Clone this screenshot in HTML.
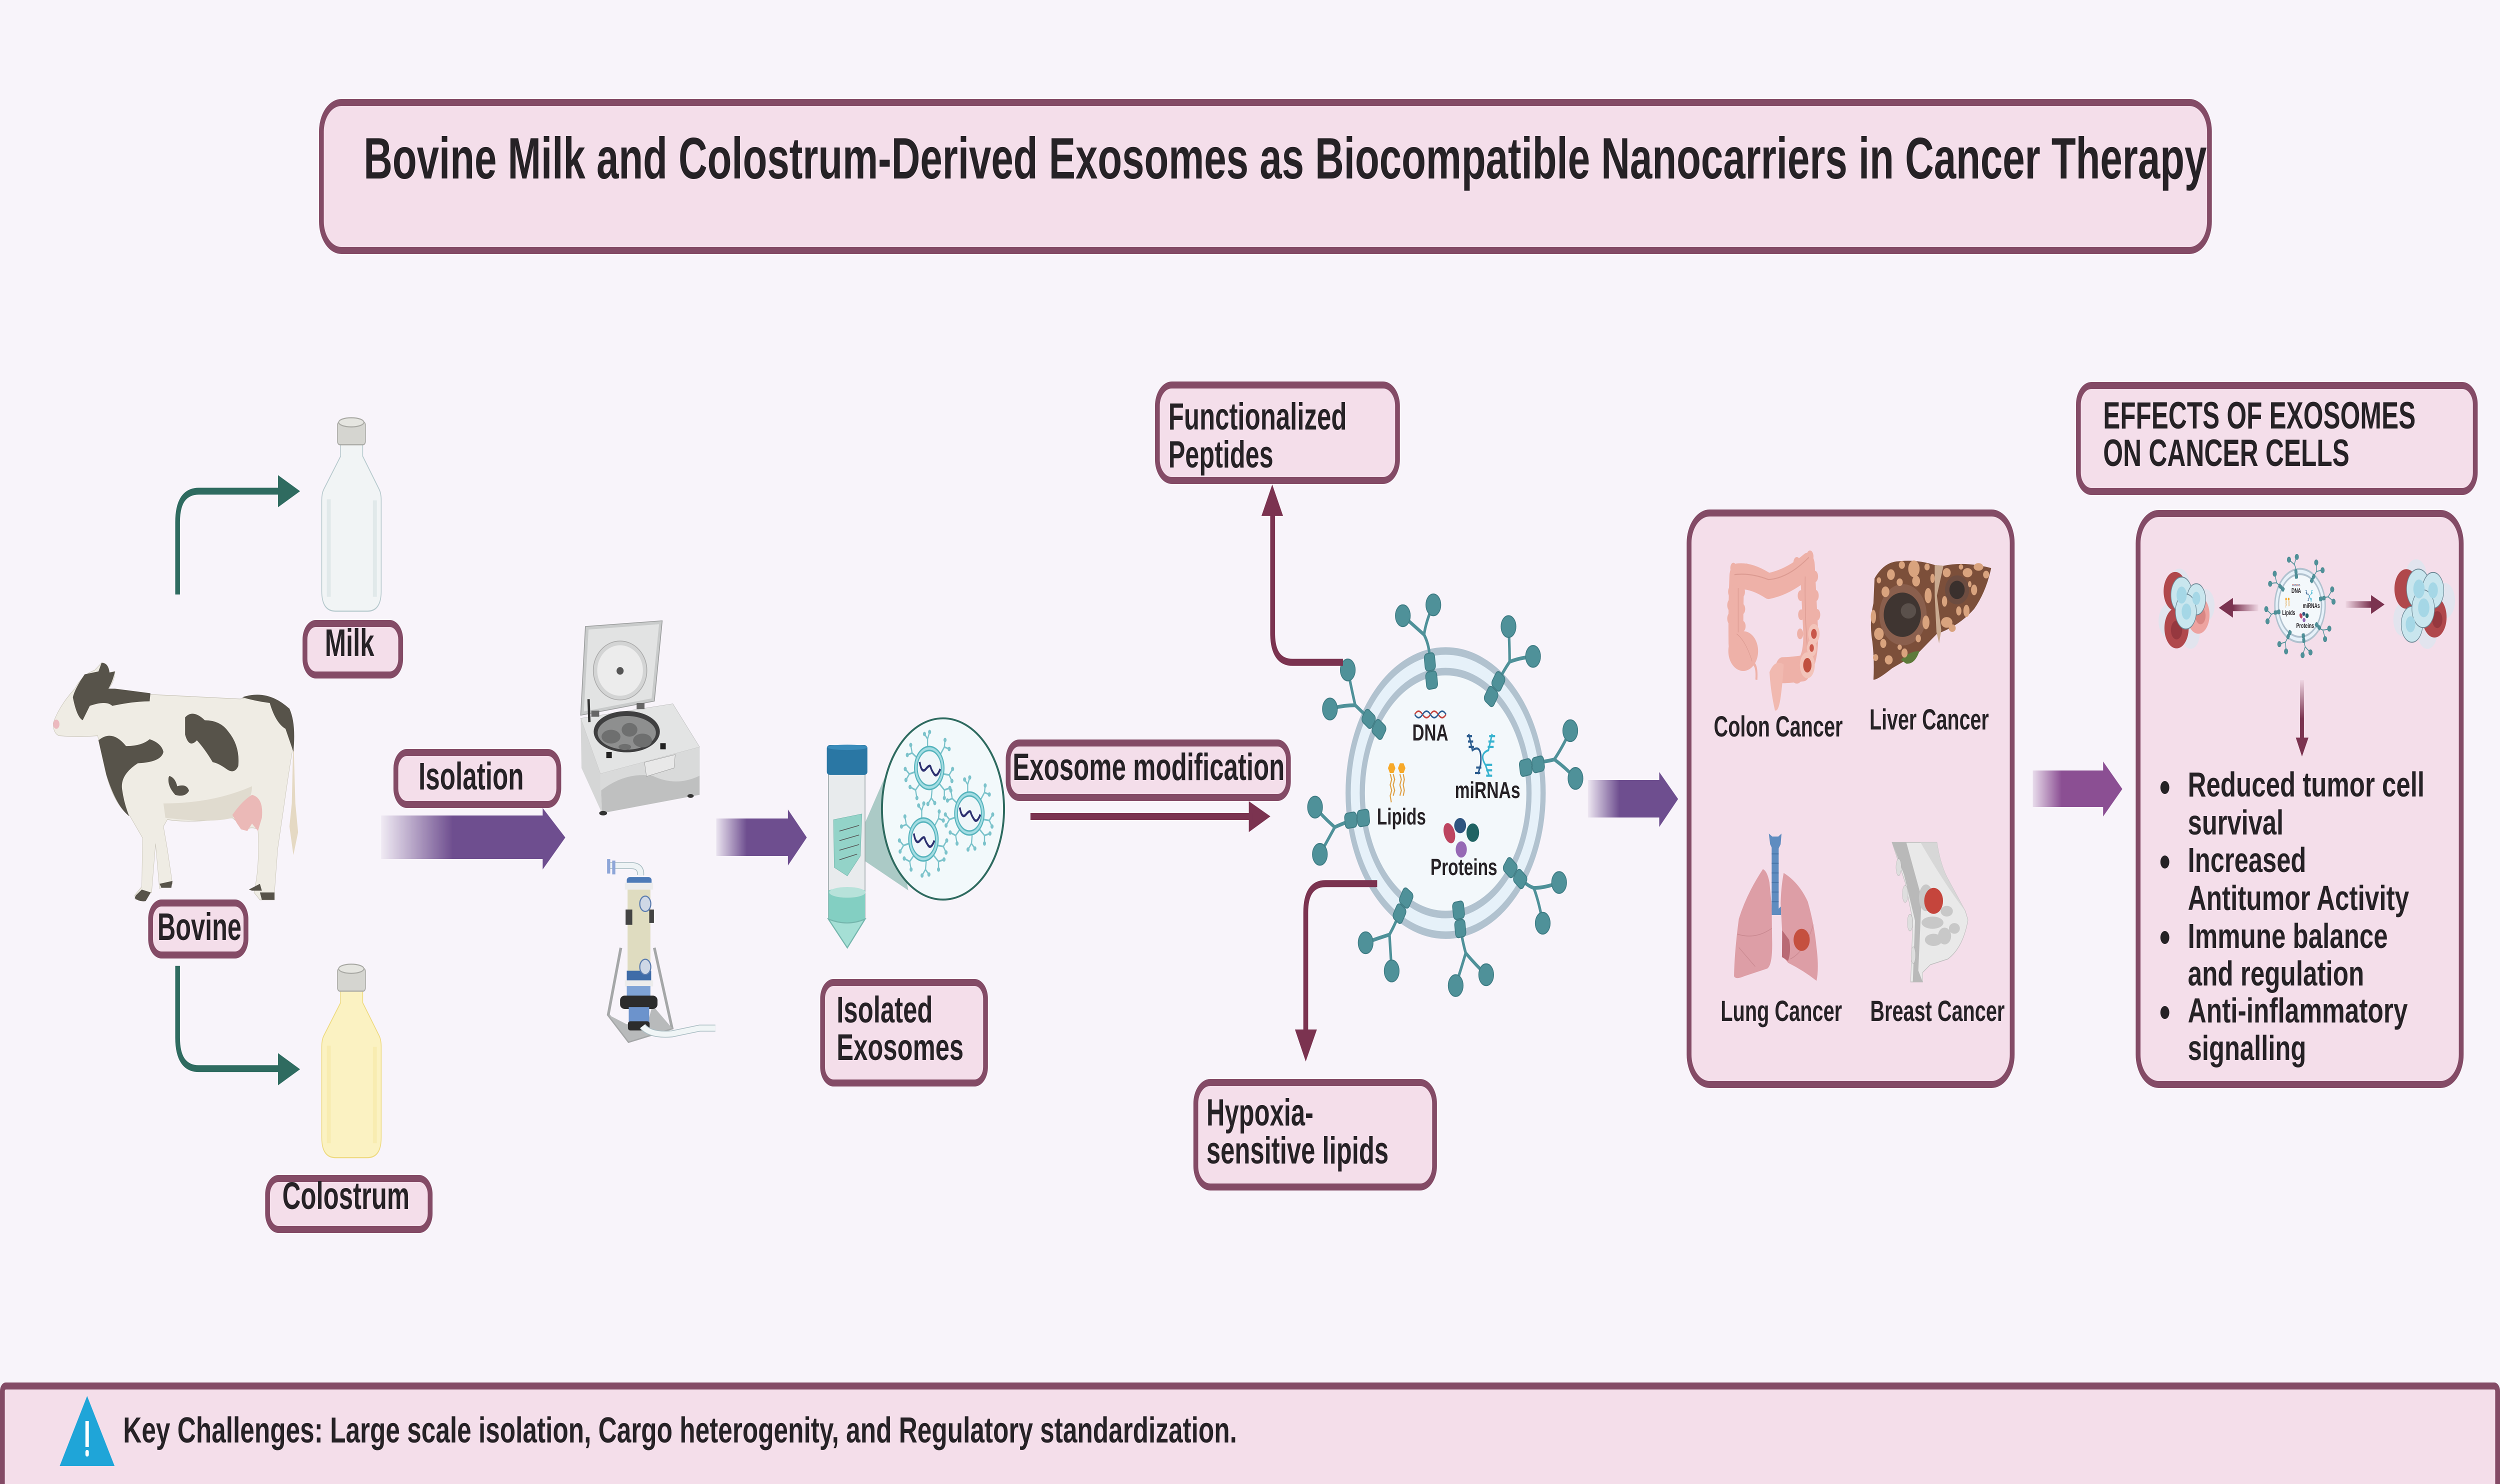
<!DOCTYPE html>
<html><head><meta charset="utf-8"><title>Bovine Milk and Colostrum-Derived Exosomes</title>
<style>
html,body{margin:0;padding:0;width:100%;height:100%;overflow:hidden;background:#f8f4fa}
svg{display:block;width:100vw;height:100vh}
text{font-family:"Liberation Sans",Arial,sans-serif;font-weight:700;fill:#262226}
.b{fill:#f4deea;stroke:#844b66;stroke-width:14}
</style></head><body>
<svg xmlns="http://www.w3.org/2000/svg" viewBox="0 0 7288 2968" preserveAspectRatio="none">
<defs>
<linearGradient id="g1" gradientUnits="userSpaceOnUse" x1="1111" x2="1320" y1="0" y2="0"><stop offset="0" stop-color="#6e4e8f" stop-opacity=".06"/><stop offset="1" stop-color="#6e4e8f"/></linearGradient>
<linearGradient id="g2" gradientUnits="userSpaceOnUse" x1="2088" x2="2177" y1="0" y2="0"><stop offset="0" stop-color="#6e4e8f" stop-opacity=".1"/><stop offset="1" stop-color="#6e4e8f"/></linearGradient>
<linearGradient id="g3" gradientUnits="userSpaceOnUse" x1="4629" x2="4721" y1="0" y2="0"><stop offset="0" stop-color="#6e4e8f" stop-opacity=".08"/><stop offset="1" stop-color="#6e4e8f"/></linearGradient>
<linearGradient id="g4" gradientUnits="userSpaceOnUse" x1="5926" x2="6010" y1="0" y2="0"><stop offset="0" stop-color="#8b4f93" stop-opacity=".15"/><stop offset="1" stop-color="#8b4f93"/></linearGradient>
<linearGradient id="g5" gradientUnits="userSpaceOnUse" x1="710" x2="620" y1="0" y2="0"><stop offset="0" stop-color="#7b3350" stop-opacity=".05"/><stop offset="1" stop-color="#7b3350"/></linearGradient>
<linearGradient id="g6" gradientUnits="userSpaceOnUse" x1="1020" x2="1110" y1="0" y2="0"><stop offset="0" stop-color="#7b3350" stop-opacity=".05"/><stop offset="1" stop-color="#7b3350"/></linearGradient>
<linearGradient id="g7" gradientUnits="userSpaceOnUse" x1="0" x2="0" y1="678" y2="760"><stop offset="0" stop-color="#7b3350" stop-opacity=".05"/><stop offset="1" stop-color="#7b3350"/></linearGradient>
<g id="lens">
<g fill="none" stroke="#7cc3cb" stroke-width="3.5">
<path d="M-5-42V-58M-5-58L-14-68M-5-58L1-72M33-28L44-42M44-42L46-56M44-42L58-38M42 12L58 14M58 14L68 2M58 14L66 26M30 32L44 44M44 44L60 40M44 44L44 60M8 44L6 60M6 60L-4 72M6 60L16 70M-28 32L-40 44M-40 44L-56 38M-40 44L-36 60M-42 8L-58 12M-58 12L-70 2M-58 12L-68 24M-38-22L-50-30M-50-30L-54-46M-50-30L-64-26"/>
</g>
<g fill="#7cc3cb"><circle cx="-14" cy="-68" r="4.5"/><circle cx="1" cy="-72" r="4.5"/><circle cx="46" cy="-56" r="4.5"/><circle cx="58" cy="-38" r="4.5"/><circle cx="68" cy="2" r="4.5"/><circle cx="66" cy="26" r="4.5"/><circle cx="60" cy="40" r="4.5"/><circle cx="44" cy="60" r="4.5"/><circle cx="-4" cy="72" r="4.5"/><circle cx="16" cy="70" r="4.5"/><circle cx="-56" cy="38" r="4.5"/><circle cx="-36" cy="60" r="4.5"/><circle cx="-70" cy="2" r="4.5"/><circle cx="-68" cy="24" r="4.5"/><circle cx="-54" cy="-46" r="4.5"/><circle cx="-64" cy="-26" r="4.5"/></g>
<circle r="39" fill="#eff6f9" stroke="#a4dde3" stroke-width="8"/>
<circle r="43" fill="none" stroke="#57b4bd" stroke-width="3"/>
<circle r="35" fill="none" stroke="#57b4bd" stroke-width="3"/>
<path d="M-28-12Q-22 12-10 2T4-2T14 12T32 2" fill="none" stroke="#2d3170" stroke-width="5"/>
</g>
<g id="bottle">
<path d="M865 160V185L822 243Q817 250 817 262V420Q817 455 852 455H933Q968 455 968 420V262Q968 250 963 243L921 185V160Z"/>
<path d="M835 260V430M952 262V430" stroke-width="10" opacity=".25" fill="none"/>
<rect x="857" y="125" width="71" height="40" rx="6" fill="#d5d5d0" stroke="#a9a9a4" stroke-width="2"/>
<ellipse cx="892" cy="126" rx="32" ry="8" fill="#e5e5e0" stroke="#a9a9a4" stroke-width="2"/>
</g>
<g id="exo">
<circle cx="843" cy="817" r="262" fill="#e6f1f9" stroke="#b1c2cf" stroke-width="14"/>
<circle cx="843" cy="817" r="224" fill="#f3f8fb" stroke="#b1c2cf" stroke-width="14"/>
<g fill="none" stroke="#4f9199" stroke-width="7">
<path d="M800 570Q800 545 785 525L728 490M785 525Q790 500 810 470"/>
<path d="M985 610Q1000 590 1015 575Q1015 545 1012 510M1015 575Q1040 568 1078 565"/>
<path d="M1095 760Q1120 758 1135 755Q1155 735 1178 702M1135 755Q1165 770 1192 790"/>
<path d="M1045 975Q1062 988 1080 992Q1110 992 1148 982M1080 992Q1095 1020 1104 1057"/>
<path d="M885 1075Q890 1095 897 1112Q885 1140 870 1172M897 1112Q925 1135 952 1152"/>
<path d="M715 1045Q705 1062 692 1078Q660 1085 628 1093M692 1078Q695 1110 698 1145"/>
<path d="M580 870Q560 875 545 880Q515 862 492 843M545 880Q525 905 505 930"/>
<path d="M630 675Q615 665 600 655Q565 655 532 662M600 655Q590 625 580 590"/>
</g>
<g fill="#4f9199" stroke="#3f7c84" stroke-width="2">
<circle cx="728" cy="490" r="20"/><circle cx="810" cy="470" r="20"/>
<circle cx="1012" cy="510" r="20"/><circle cx="1078" cy="565" r="20"/>
<circle cx="1178" cy="702" r="20"/><circle cx="1192" cy="790" r="20"/>
<circle cx="1148" cy="982" r="20"/><circle cx="1104" cy="1057" r="20"/>
<circle cx="870" cy="1172" r="20"/><circle cx="952" cy="1152" r="20"/>
<circle cx="628" cy="1093" r="20"/><circle cx="698" cy="1145" r="20"/>
<circle cx="492" cy="843" r="20"/><circle cx="505" cy="930" r="20"/>
<circle cx="532" cy="662" r="20"/><circle cx="580" cy="590" r="20"/>
<g transform="translate(803 592) rotate(-8)"><rect x="-14" y="-33" width="28" height="32" rx="8"/><rect x="-15" y="1" width="30" height="32" rx="8"/></g>
<g transform="translate(975 625) rotate(35)"><rect x="-14" y="-33" width="28" height="32" rx="8"/><rect x="-15" y="1" width="30" height="32" rx="8"/></g>
<g transform="translate(1075 767) rotate(80)"><rect x="-14" y="-33" width="28" height="32" rx="8"/><rect x="-15" y="1" width="30" height="32" rx="8"/></g>
<g transform="translate(1030 965) rotate(128)"><rect x="-14" y="-33" width="28" height="32" rx="8"/><rect x="-15" y="1" width="30" height="32" rx="8"/></g>
<g transform="translate(880 1050) rotate(172)"><rect x="-14" y="-33" width="28" height="32" rx="8"/><rect x="-15" y="1" width="30" height="32" rx="8"/></g>
<g transform="translate(728 1025) rotate(212)"><rect x="-14" y="-33" width="28" height="32" rx="8"/><rect x="-15" y="1" width="30" height="32" rx="8"/></g>
<g transform="translate(605 865) rotate(263)"><rect x="-14" y="-33" width="28" height="32" rx="8"/><rect x="-15" y="1" width="30" height="32" rx="8"/></g>
<g transform="translate(650 690) rotate(305)"><rect x="-14" y="-33" width="28" height="32" rx="8"/><rect x="-15" y="1" width="30" height="32" rx="8"/></g>
</g>
<path d="M760 672q10-12 21 0t21 0t21 0t21 0" fill="none" stroke="#c6463f" stroke-width="3"/>
<path d="M760 672q10 12 21 0t21 0t21 0t21 0" fill="none" stroke="#2d5e92" stroke-width="3"/>
<g fill="#f7a929"><polygon points="688,771 693,762 703,762 708,771 703,780 693,780"/><polygon points="715,771 720,762 730,762 735,771 730,780 720,780"/></g>
<g fill="none" stroke="#e0a34a" stroke-width="3"><path d="M694 782l4 10-4 10 4 10-4 10 3 12M702 782l4 10-4 10 4 10-4 10M720 782l4 10-4 10 4 10-4 10M729 782l3 10-3 10 3 10-3 10"/></g>
<g fill="none" stroke-width="4"><path d="M905 708L915 738Q942 725 937 765L930 782" stroke="#2c5d8f"/><path d="M968 708L958 738Q932 745 950 765L960 785" stroke="#37b3cf"/>
<path d="M900 712h14M903 722h14M905 732h14M925 770h14M922 780h14" stroke="#2c5d8f"/><path d="M960 712h16M958 722h16M956 732h16M952 765h16M952 775h16M952 785h16" stroke="#37b3cf"/></g>
<ellipse cx="853" cy="891" rx="14" ry="20" fill="#bd4560" transform="rotate(-30 853 891)"/>
<ellipse cx="882" cy="877" rx="16" ry="14" fill="#2f5580"/>
<circle cx="916" cy="890" r="17" fill="#1f6363"/>
<circle cx="885" cy="921" r="15" fill="#9669b5"/>
</g>
</defs>

<rect width="7288" height="2968" fill="#f8f4fa"/>

<rect class="b" x="937" y="205" width="5504" height="296" rx="58"/>
<text x="1060" y="357" font-size="117" textLength="5373" lengthAdjust="spacingAndGlyphs">Bovine Milk and Colostrum-Derived Exosomes as Biocompatible Nanocarriers in Cancer Therapy</text>

<g transform="translate(0 700) scale(1.148)">
<g fill="none" stroke="#2f6b60" stroke-width="12">
<path d="M451 426V300Q451 246 505 246H715"/>
<path d="M451 1073V1198Q451 1252 505 1252H715"/>
</g>
<polygon points="706,218 762,246 706,274" fill="#2f6b60"/>
<polygon points="706,1225 762,1253 706,1281" fill="#2f6b60"/>
<use href="#bottle" fill="#f1f4f5" stroke="#b5c8cc" stroke-width="2"/>
<use href="#bottle" y="952" fill="#fbf2c2" stroke="#eeda80" stroke-width="2"/>
<path d="M135 650Q150 620 190 590Q210 565 240 558L258 545Q275 545 278 562L292 560Q290 580 275 590L380 600L610 608Q680 595 735 625Q748 650 742 700Q730 750 722 790L705 870L697 945L697 958L660 958L645 945Q660 900 655 835Q640 830 625 835L590 815Q480 825 425 818L415 830L425 870L438 930L405 938L395 860L385 945L345 958L342 950L360 935L362 850L330 812Q285 790 265 725L248 672Q200 675 150 672Q135 668 135 650Z" fill="#efece4" stroke="#c9c5b8" stroke-width="1"/>
<path d="M420 815Q540 825 590 815Q640 790 640 760Q540 790 415 790Z" fill="#e0dbcf"/>
<path d="M745 670L750 790L757 840L745 880L735 830L741 790Z" fill="#e5d9c3"/>
<path d="M590 810Q615 785 640 775Q670 780 665 815L655 838L640 825L628 838L612 835L602 825Z" fill="#ebb9b7"/>
<g fill="#57534a">
<path d="M215 565Q190 590 185 605Q195 640 210 645L228 620Q270 610 285 620Q340 612 380 612L382 598L292 590L275 590Q285 580 292 560L278 562Q275 545 258 545L250 560Z"/>
<path d="M615 605Q680 590 735 625Q752 650 745 700L725 660Q700 650 685 615Q650 612 615 605Z"/>
<path d="M470 640Q490 625 520 645Q560 645 580 665Q610 690 605 725Q595 740 575 730Q555 720 540 718Q520 695 500 680Q480 695 470 670Z"/>
<path d="M250 680Q285 660 320 690Q360 690 380 678Q410 685 415 700Q410 718 350 720Q305 740 310 765Q315 790 328 812Q295 795 270 740Z"/>
<path d="M430 742Q445 745 450 760Q475 755 480 768Q470 780 445 775Q425 760 428 745Z"/>
<path d="M345 950L360 940L383 945L370 960Q355 962 342 955Z"/><path d="M405 930L438 925L435 937H410Z"/><path d="M632 940L660 930L665 942H640Z"/><path d="M660 945L697 945V958H665Z"/>
</g>
<circle cx="143" cy="652" r="8" fill="#ecb9bf"/>
</g>
<path d="M1111 1631H1582V1616L1648 1675L1582 1739V1718H1111Z" fill="url(#g1)"/>

<rect class="b" x="889" y="1247" width="279" height="103" rx="32"/>
<text x="947" y="1312" font-size="77" textLength="144" lengthAdjust="spacingAndGlyphs">Milk</text>
<rect class="b" x="439" y="1806" width="278" height="104" rx="32"/>
<text x="459" y="1880" font-size="77" textLength="245" lengthAdjust="spacingAndGlyphs">Bovine</text>
<rect class="b" x="780" y="2357" width="474" height="102" rx="32"/>
<text x="823" y="2418" font-size="77" textLength="371" lengthAdjust="spacingAndGlyphs">Colostrum</text>
<rect class="b" x="1154" y="1505" width="475" height="104" rx="32"/>
<text x="1220" y="1579" font-size="77" textLength="307" lengthAdjust="spacingAndGlyphs">Isolation</text>

<g transform="translate(1500 1100) scale(1.148 .765)">
<polygon points="180,200 375,185 355,395 168,432" fill="#c9cbcb" stroke="#9a9c9c" stroke-width="2"/>
<polygon points="188,208 367,194 348,388 176,422" fill="#e2e3e3"/>
<ellipse cx="268" cy="315" rx="68" ry="77" fill="#d3d4d4" stroke="#aaa" stroke-width="2"/>
<ellipse cx="268" cy="315" rx="58" ry="66" fill="#ececec"/>
<ellipse cx="268" cy="316" rx="9" ry="10" fill="#555"/>
<polygon points="218,585 470,515 470,640 222,688" fill="#bfc0c0"/>
<polygon points="168,440 402,402 470,515 218,585" fill="#e3e4e4" stroke="#bbb" stroke-width="1"/>
<polygon points="168,440 218,585 222,688 170,570" fill="#d5d6d6"/>
<path d="M218 585L470 515V590Q410 620 350 590Q280 580 218 630Z" fill="#d9dada"/>
<ellipse cx="285" cy="475" rx="84" ry="54" fill="#3f3f40"/>
<ellipse cx="285" cy="478" rx="74" ry="44" fill="#8e8f8f"/>
<g fill="#6e6f6f"><ellipse cx="245" cy="488" rx="24" ry="18"/><ellipse cx="292" cy="470" rx="20" ry="18"/><ellipse cx="325" cy="498" rx="24" ry="18"/><ellipse cx="280" cy="515" rx="16" ry="8"/></g>
<polygon points="330,555 408,535 405,570 335,592" fill="#e8e8e8" stroke="#999"/>
<rect x="233" y="528" width="14" height="16" fill="#222"/><rect x="370" y="505" width="14" height="16" fill="#222"/>
<rect x="195" y="420" width="20" height="16" fill="#666"/><rect x="310" y="400" width="20" height="16" fill="#666"/>
<path d="M188 390L190 450" stroke="#333" stroke-width="6"/>
<ellipse cx="225" cy="688" rx="10" ry="6" fill="#333"/><ellipse cx="447" cy="643" rx="8" ry="5" fill="#333"/>
<path d="M270 1040L238 1215L290 1285L400 1250L355 1040" fill="none" stroke="#a5a7a8" stroke-width="7"/>
<polygon points="238,1215 290,1285 400,1250 350,1190 340,1230 285,1240" fill="#b8babb"/>
<path d="M320 850Q322 825 295 825H240" fill="none" stroke="#a9bcc2" stroke-width="18"/>
<path d="M320 850Q322 825 295 825H240" fill="none" stroke="#eef3f5" stroke-width="14"/>
<rect x="235" y="808" width="8" height="38" fill="#8ea6d8"/><rect x="248" y="812" width="8" height="36" fill="#8ea6d8"/>
<rect x="285" y="855" width="63" height="32" rx="8" fill="#4d7ab8"/>
<rect x="280" y="870" width="72" height="18" fill="#ececec"/>
<rect x="287" y="888" width="58" height="215" fill="#dfdcc0"/>
<rect x="285" y="1100" width="62" height="35" fill="#3f6ca8"/>
<rect x="280" y="1125" width="72" height="16" fill="#ececec"/>
<rect x="285" y="1140" width="60" height="40" fill="#7fa3d6"/>
<rect x="268" y="1165" width="95" height="35" rx="12" fill="#2c2c2c"/>
<rect x="290" y="1195" width="52" height="45" fill="#6c93cc"/>
<rect x="288" y="1232" width="55" height="24" rx="6" fill="#2c2c2c"/>
<path d="M325 1245Q345 1270 400 1265L470 1250H510" fill="none" stroke="#a9bcc2" stroke-width="18"/>
<path d="M325 1245Q345 1270 400 1265L470 1250H510" fill="none" stroke="#f0f5f6" stroke-width="14"/>
<rect x="282" y="940" width="17" height="40" fill="#444"/><rect x="342" y="940" width="12" height="35" fill="#444"/>
<ellipse cx="332" cy="925" rx="14" ry="20" fill="#cfd8e6" stroke="#5d7eb0" stroke-width="3"/>
<ellipse cx="332" cy="1090" rx="14" ry="20" fill="#cfd8e6" stroke="#5d7eb0" stroke-width="3"/>
<polygon points="885,725 942,590 1000,890 885,810" fill="#abcac6"/>
<path d="M797 585V965L845 1040L890 965V585Z" fill="#e8ebed" stroke="#9ba5a8" stroke-width="2"/>
<path d="M797 890Q845 875 890 890V965L845 1040L797 965Z" fill="#83cfc2"/>
<ellipse cx="845" cy="895" rx="46" ry="14" fill="#b7e2da"/>
<path d="M797 965Q845 985 890 965L845 1040Z" fill="#a5dfd5" stroke="#75b6ad" stroke-width="3"/>
<polygon points="810,705 882,690 878,800 845,852 812,830" fill="#93d3c8" stroke="#6fb3a9"/>
<path d="M825 735L875 720M825 760L875 745M825 785L875 770M825 810L870 795" stroke="#555" stroke-width="2"/>
<rect x="793" y="510" width="103" height="78" rx="8" fill="#2a77a4"/>
<ellipse cx="845" cy="516" rx="51" ry="7" fill="#3a8cbb"/>
<ellipse cx="1088" cy="677" rx="155" ry="237" fill="#f2f9fb" stroke="#2f6b60" stroke-width="5"/>
</g>
<path d="M2088 1637H2297V1619L2352 1675L2297 1731V1712H2088Z" fill="url(#g2)"/>
<use href="#lens" x="2709" y="1536"/>
<use href="#lens" x="2826" y="1627"/>
<use href="#lens" x="2692" y="1679"/>

<rect class="b" x="2398" y="1965" width="475" height="201" rx="32"/>
<text x="2439" y="2045" font-size="74" textLength="280" lengthAdjust="spacingAndGlyphs">Isolated</text>
<text x="2439" y="2120" font-size="74" textLength="370" lengthAdjust="spacingAndGlyphs">Exosomes</text>

<rect class="b" x="2939" y="1486" width="817" height="109" rx="32"/>
<text x="2952" y="1560" font-size="76" textLength="793" lengthAdjust="spacingAndGlyphs">Exosome modification</text>

<g transform="translate(3300 700) scale(1.0846)">
<use href="#exo"/>
<g fill="none" stroke="#7b3350" stroke-width="13">
<path d="M567 576H432Q378 576 378 522V300"/>
<path d="M659 984H520Q467 984 467 1037V1260"/>
</g>
<polygon points="348,306 377,248 406,306" fill="#7b3350"/>
<polygon points="438,1253 467,1312 497,1253" fill="#7b3350"/>
<polygon points="314,832 372,860 314,889" fill="#7b3350"/>
</g>
<path d="M3004 1633H3650" stroke="#7b3350" stroke-width="14" fill="none"/>
<path d="M4629 1560H4837V1544L4892 1598L4837 1654V1635H4629Z" fill="url(#g3)"/>
<text x="4117" y="1481" font-size="46" textLength="105" lengthAdjust="spacingAndGlyphs">DNA</text>
<text x="4241" y="1596" font-size="46" textLength="191" lengthAdjust="spacingAndGlyphs">miRNAs</text>
<text x="4014" y="1649" font-size="46" textLength="143" lengthAdjust="spacingAndGlyphs">Lipids</text>
<text x="4170" y="1750" font-size="46" textLength="195" lengthAdjust="spacingAndGlyphs">Proteins</text>

<rect class="b" x="3374" y="770" width="700" height="191" rx="42"/>
<text x="3406" y="859" font-size="76" textLength="520" lengthAdjust="spacingAndGlyphs">Functionalized</text>
<text x="3406" y="935" font-size="76" textLength="306" lengthAdjust="spacingAndGlyphs">Peptides</text>
<rect class="b" x="3486" y="2165" width="696" height="209" rx="42"/>
<text x="3517" y="2251" font-size="76" textLength="312" lengthAdjust="spacingAndGlyphs">Hypoxia-</text>
<text x="3517" y="2327" font-size="76" textLength="531" lengthAdjust="spacingAndGlyphs">sensitive lipids</text>

<rect class="b" x="4924" y="1026" width="942" height="1143" rx="60"/>
<g transform="translate(4900 1000) scale(.638 .765)">
<g fill="none" stroke="#eeb1a8" stroke-linecap="round" stroke-linejoin="round">
<path d="M252 375Q250 280 256 200Q320 195 400 225Q490 215 578 172Q586 260 592 330Q600 410 560 440Q500 445 465 445" stroke-width="68"/>
</g>
<g fill="#eeb1a8">
<circle cx="232" cy="240" r="16"/><circle cx="228" cy="275" r="16"/><circle cx="228" cy="310" r="16"/><circle cx="278" cy="240" r="15"/><circle cx="280" cy="285" r="14"/><circle cx="282" cy="330" r="14"/>
<circle cx="240" cy="178" r="14"/><circle cx="300" cy="180" r="14"/><circle cx="350" cy="198" r="14"/><circle cx="410" cy="205" r="14"/><circle cx="470" cy="195" r="14"/><circle cx="530" cy="165" r="16"/><circle cx="590" cy="148" r="16"/>
<circle cx="612" cy="200" r="15"/><circle cx="615" cy="250" r="15"/><circle cx="622" cy="300" r="15"/><circle cx="548" cy="250" r="14"/><circle cx="550" cy="300" r="14"/><circle cx="545" cy="350" r="14"/>
</g>
<path d="M245 195Q320 190 400 208Q490 205 585 150M262 230V350M568 200Q565 300 580 400" fill="none" stroke="#dc9b92" stroke-width="3"/>
<ellipse cx="285" cy="395" rx="68" ry="52" fill="#eeb1a8"/>
<path d="M255 350Q300 370 330 430" fill="none" stroke="#dc9b92" stroke-width="2"/>
<path d="M325 425Q350 430 345 470" fill="none" stroke="#eeb1a8" stroke-width="9"/>
<path d="M405 450Q430 415 470 430Q465 480 455 520Q445 555 430 550Q410 500 405 450Z" fill="#f1b9b0"/>
<ellipse cx="530" cy="452" rx="30" ry="28" fill="#eeb1a8"/>
<circle cx="608" cy="350" r="26" fill="#f3c4ba"/><circle cx="598" cy="387" r="22" fill="#f3c4ba"/><circle cx="578" cy="432" r="34" fill="#f3c4ba"/>
<circle cx="608" cy="350" r="13" fill="#c9574a"/><circle cx="598" cy="387" r="10" fill="#c9574a"/><circle cx="578" cy="432" r="19" fill="#c0503f"/>
<path d="M885 205Q930 160 1000 160Q1080 155 1160 170L1200 172Q1300 160 1418 178Q1395 240 1340 285Q1270 330 1170 350Q1110 385 1085 400Q1010 425 965 440Q900 470 880 470Q885 420 875 370Q860 320 880 270Z" fill="#7c4f3a"/>
<path d="M1160 170L1200 172L1170 250L1190 340L1180 375L1168 345L1160 250Z" fill="#c9aa90"/>
<path d="M1005 418Q1045 395 1090 395Q1070 430 1030 428Z" fill="#5d7a3a"/>
<ellipse cx="1015" cy="300" rx="108" ry="80" fill="#8a5f4d"/>
<ellipse cx="1012" cy="300" rx="85" ry="58" fill="#3f3531"/>
<ellipse cx="1040" cy="290" rx="35" ry="20" fill="#5a504b"/>
<ellipse cx="1262" cy="235" rx="55" ry="38" fill="#6d4c40"/>
<ellipse cx="1262" cy="235" rx="35" ry="24" fill="#3a302d"/>
<g fill="#d9a37e">
<ellipse cx="1065" cy="180" rx="26" ry="22"/><ellipse cx="960" cy="195" rx="18" ry="14"/><ellipse cx="1010" cy="170" rx="14" ry="10"/><ellipse cx="1075" cy="212" rx="18" ry="14"/><ellipse cx="935" cy="240" rx="18" ry="14"/><ellipse cx="1000" cy="215" rx="14" ry="10"/><ellipse cx="1130" cy="250" rx="16" ry="20"/><ellipse cx="1125" cy="175" rx="12" ry="9"/>
<ellipse cx="880" cy="305" rx="12" ry="18"/><ellipse cx="905" cy="350" rx="22" ry="16"/><ellipse cx="925" cy="375" rx="14" ry="12"/><ellipse cx="890" cy="412" rx="12" ry="9"/><ellipse cx="950" cy="418" rx="18" ry="12"/><ellipse cx="1022" cy="400" rx="14" ry="12"/><ellipse cx="1120" cy="320" rx="16" ry="18"/><ellipse cx="1085" cy="362" rx="12" ry="10"/>
<ellipse cx="1215" cy="190" rx="18" ry="12"/><ellipse cx="1310" cy="190" rx="22" ry="12"/><ellipse cx="1360" cy="175" rx="22" ry="10"/><ellipse cx="1395" cy="195" rx="14" ry="10"/><ellipse cx="1340" cy="235" rx="14" ry="14"/><ellipse cx="1215" cy="320" rx="26" ry="14"/><ellipse cx="1270" cy="290" rx="12" ry="12"/><ellipse cx="1305" cy="290" rx="14" ry="16"/><ellipse cx="1240" cy="335" rx="16" ry="10"/><ellipse cx="1205" cy="265" rx="12" ry="14"/><ellipse cx="1320" cy="220" rx="8" ry="8"/>
<ellipse cx="905" cy="210" rx="10" ry="8"/><ellipse cx="1150" cy="205" rx="10" ry="12"/><ellipse cx="1000" cy="385" rx="10" ry="7"/><ellipse cx="1280" cy="175" rx="10" ry="7"/>
</g>
<rect x="415" y="880" width="32" height="200" fill="#5f8cc0"/>
<path d="M415 900h32M415 925h32M415 950h32M415 975h32M415 1000h32M415 1025h32M415 1050h32" stroke="#4a77ab" stroke-width="3"/>
<path d="M402 872L418 880H445L460 872L456 900L446 912H418L408 900Z" fill="#5f8cc0"/>
<path d="M411 1065L430 1078L458 1062V1085H411Z" fill="#5f8cc0"/>
<path d="M375 965Q300 1030 265 1095Q245 1180 243 1245Q250 1255 290 1245L395 1225Q420 1215 417 1150L415 1060L405 1000Q395 970 375 965Z" fill="#dd9ea6"/>
<path d="M470 975Q458 1010 456 1055L463 1130Q465 1175 462 1190L490 1210Q560 1230 620 1257Q632 1225 620 1170Q610 1110 580 1050Q540 1000 470 975Z" fill="#dd9ea6"/>
<path d="M463 1125L495 1150Q505 1180 490 1205L462 1195Z" fill="#b96a75"/>
<path d="M258 1135Q340 1150 415 1120M265 1170Q310 1200 340 1220M500 1200Q570 1180 605 1110" fill="none" stroke="#c98890" stroke-width="2"/>
<ellipse cx="552" cy="1150" rx="37" ry="29" fill="#c5503f"/>
<path d="M1095 895H1170Q1185 950 1215 985L1300 1075L1312 1098Q1290 1170 1220 1200L1140 1215L1105 1235V1260H1050L1060 1100L1025 1000L965 895Z" fill="#e9e9e9" stroke="#bdbdbd" stroke-width="2"/>
<path d="M1030 895L1100 1040L1085 1230L1105 1260H1060L1070 1100L1020 980L965 895Z" fill="#b9b9b9"/>
<path d="M1095 895H1170Q1185 950 1215 985L1300 1075Q1200 1000 1095 895Z" fill="#d7d7d7"/>
<g fill="#c8c8c8"><ellipse cx="1120" cy="1040" rx="32" ry="35"/><ellipse cx="1150" cy="1105" rx="50" ry="16"/><ellipse cx="1155" cy="1150" rx="40" ry="16"/><ellipse cx="1205" cy="1140" rx="30" ry="22"/><ellipse cx="1215" cy="1075" rx="28" ry="14"/><ellipse cx="1250" cy="1120" rx="25" ry="14"/></g>
<g fill="#dedede" stroke="#aaa"><ellipse cx="995" cy="960" rx="12" ry="22"/><ellipse cx="1025" cy="1030" rx="13" ry="22"/><ellipse cx="1047" cy="1105" rx="12" ry="22"/><ellipse cx="1062" cy="1190" rx="10" ry="22"/></g>
<ellipse cx="1155" cy="1048" rx="43" ry="34" fill="#c5453c"/>
</g>
<text x="4996" y="1473" font-size="58" textLength="376" lengthAdjust="spacingAndGlyphs">Colon Cancer</text>
<text x="5450" y="1459" font-size="58" textLength="348" lengthAdjust="spacingAndGlyphs">Liver Cancer</text>
<text x="5016" y="2042" font-size="58" textLength="354" lengthAdjust="spacingAndGlyphs">Lung Cancer</text>
<text x="5452" y="2042" font-size="58" textLength="392" lengthAdjust="spacingAndGlyphs">Breast Cancer</text>

<path d="M5926 1541H6131V1523L6187 1578L6131 1633V1614H5926Z" fill="url(#g4)"/>

<rect class="b" x="6059" y="771" width="1157" height="212" rx="38"/>
<text x="6131" y="857" font-size="76" textLength="911" lengthAdjust="spacingAndGlyphs">EFFECTS OF EXOSOMES</text>
<text x="6131" y="932" font-size="76" textLength="718" lengthAdjust="spacingAndGlyphs">ON CANCER CELLS</text>
<rect class="b" x="6233" y="1027" width="942" height="1142" rx="60"/>
<g transform="translate(6705 1211) scale(.28) translate(-843 -817)"><use href="#exo"/></g>
<text x="6680" y="1186" font-size="14" textLength="28" lengthAdjust="spacingAndGlyphs">DNA</text>
<text x="6713" y="1216" font-size="14" textLength="50" lengthAdjust="spacingAndGlyphs">miRNAs</text>
<text x="6653" y="1230" font-size="14" textLength="38" lengthAdjust="spacingAndGlyphs">Lipids</text>
<text x="6694" y="1256" font-size="14" textLength="52" lengthAdjust="spacingAndGlyphs">Proteins</text>
<g transform="translate(6000 720) scale(.8217 .944)">
<path d="M710 518V532H620V546L570 525L620 504V518Z" fill="url(#g5)"/>
<path d="M1020 511V525H1110V538L1158 518L1110 498V511Z" fill="url(#g6)"/>
<path d="M858 678H872V800H888L865 840L843 800H858Z" fill="url(#g7)"/>
<g fill="#e2e4ee"><circle cx="430" cy="480" r="38"/><circle cx="520" cy="520" r="35"/><circle cx="392" cy="553" r="36"/><circle cx="470" cy="580" r="32"/></g>
<circle cx="415" cy="490" r="41" fill="#b0484c"/><circle cx="420" cy="568" r="43" fill="#b0484c"/><circle cx="420" cy="572" r="20" fill="#96383f"/>
<circle cx="497" cy="540" r="40" fill="#eda3a0"/><circle cx="505" cy="542" r="18" fill="#d98683"/>
<g fill="#c9e6ee" stroke="#6c8794" stroke-width="2"><circle cx="438" cy="498" r="38"/><circle cx="490" cy="507" r="33"/><circle cx="453" cy="533" r="37"/></g>
<g fill="#a5d7e6"><circle cx="438" cy="498" r="18"/><circle cx="490" cy="505" r="14"/><circle cx="455" cy="533" r="17"/></g>
<g fill="#e2e4ee"><circle cx="1270" cy="460" r="38"/><circle cx="1370" cy="510" r="38"/><circle cx="1225" cy="550" r="36"/><circle cx="1310" cy="577" r="35"/></g>
<circle cx="1235" cy="485" r="42" fill="#b0484c"/><circle cx="1335" cy="545" r="43" fill="#b0484c"/><circle cx="1345" cy="550" r="18" fill="#96383f"/>
<g fill="#c9e6ee" stroke="#6c8794" stroke-width="2"><circle cx="1278" cy="485" r="42"/><circle cx="1330" cy="488" r="38"/><circle cx="1255" cy="560" r="38"/><circle cx="1295" cy="527" r="40"/></g>
<g fill="#a5d7e6"><circle cx="1280" cy="485" r="20"/><circle cx="1330" cy="488" r="17"/><circle cx="1250" cy="560" r="17"/><circle cx="1297" cy="525" r="20"/></g>
</g>
<g fill="#262226"><circle cx="6311" cy="1575" r="13"/><circle cx="6311" cy="1724" r="13"/><circle cx="6311" cy="1875" r="13"/><circle cx="6311" cy="2025" r="13"/></g>
<text x="6378" y="1593" font-size="70" textLength="690" lengthAdjust="spacingAndGlyphs">Reduced tumor cell</text>
<text x="6378" y="1669" font-size="70" textLength="279" lengthAdjust="spacingAndGlyphs">survival</text>
<text x="6378" y="1744" font-size="70" textLength="345" lengthAdjust="spacingAndGlyphs">Increased</text>
<text x="6378" y="1820" font-size="70" textLength="645" lengthAdjust="spacingAndGlyphs">Antitumor Activity</text>
<text x="6378" y="1896" font-size="70" textLength="583" lengthAdjust="spacingAndGlyphs">Immune balance</text>
<text x="6378" y="1971" font-size="70" textLength="514" lengthAdjust="spacingAndGlyphs">and regulation</text>
<text x="6378" y="2045" font-size="70" textLength="641" lengthAdjust="spacingAndGlyphs">Anti-inflammatory</text>
<text x="6378" y="2120" font-size="70" textLength="345" lengthAdjust="spacingAndGlyphs">signalling</text>

<rect class="b" x="7" y="2772" width="7274" height="300" rx="10"/>
<polygon points="254,2792 334,2932 174,2932" fill="#1fa5d8"/>
<rect x="249" y="2842" width="10" height="52" fill="#fff"/><rect x="249" y="2900" width="10" height="13" rx="4" fill="#fff"/>
<text x="359" y="2885" font-size="72" textLength="3247" lengthAdjust="spacingAndGlyphs">Key Challenges: Large scale isolation, Cargo heterogenity, and Regulatory standardization.</text>
</svg>
</body></html>
